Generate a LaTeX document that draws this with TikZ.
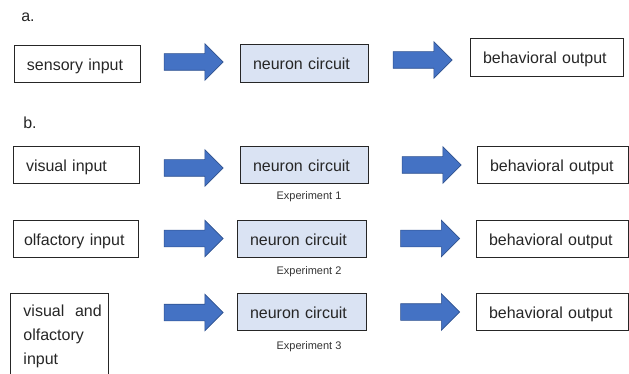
\documentclass[tikz,border=0pt]{standalone}
\usepackage{fontspec}
\setmainfont{Liberation Sans}
\usetikzlibrary{shapes}
\usetikzlibrary{shapes.arrows}
\usetikzlibrary{positioning}
\definecolor{arrblue}{HTML}{4472C4}
\definecolor{arredge}{HTML}{2F528F}
\definecolor{circblue}{HTML}{DAE3F3}
\tikzset{
    box/.style = {rectangle, draw=black!85, line width=0.9pt, minimum height=37pt, inner xsep=13pt, inner ysep=2pt, align=left, text=black!85, font=\fontsize{16}{24}\selectfont},
    onebox/.style = {box, text height=17pt, text depth=3.5pt},
    inbox/.style = {onebox, text width=100pt},
    circbox/.style = {onebox, fill=circblue, text width=103pt},
    outbox/.style = {onebox, text width=126pt},
    bigarrow/.style = {single arrow, draw=arredge, fill=arrblue, line width=0.6pt, minimum height=59pt, inner sep=8pt, single arrow head extend=10pt, single arrow tip angle=90},
    explabel/.style = {text=black!80, font=\fontsize{11}{12}\selectfont},
    partlabel/.style = {text=black!85, font=\fontsize{16}{18}\selectfont}
}

\begin{document}
\begin{tikzpicture}[x=1pt,y=-1pt]
\path[use as bounding box, clip] (0,0) rectangle (629,374);
% a. general scheme
\node[partlabel] at (28,17) (pa) {a.};
\node[inbox] at (77,64) (sens) {sensory input};
\node[circbox, minimum height=38pt, text width=102pt] at (304,63) (circ) {neuron circuit};
\node[outbox, minimum height=38pt, text width=127pt] at (546.5,57) (beh) {behavioral output};
\node[bigarrow] at (189.5,62) (sa) {};
\node[bigarrow] at (418.5,60) (sb) {};
%
% b. three experiments
\node[partlabel] at (30,123) (pb) {b.};
\node[inbox] at (76,164.5) (vis) {visual input};
\node[circbox, text width=102pt] at (304,164.5) (circA) {neuron circuit};
\node[outbox, text width=125pt] at (552.5,164.5) (behA) {behavioral output};
\node[bigarrow] at (189.5,168) (va) {};
\node[bigarrow] at (427.5,165) (vb) {};
\node[explabel] at (309,197) (expA) {Experiment 1};
%
\node[inbox, inner xsep=11pt, text width=103pt] at (75.5,238.5) (olf) {olfactory input};
\node[circbox] at (301.5,238.5) (circB) {neuron circuit};
\node[outbox] at (552,238.5) (behB) {behavioral output};
\node[bigarrow] at (189.5,238.5) (oa) {};
\node[bigarrow] at (426,238.5) (ob) {};
\node[explabel] at (309,272) (expB) {Experiment 2};
%
\node[box, anchor=north west, minimum height=86pt, text width=72pt] at (10,293) (both) {visual~~and\\olfactory\\input};
\node[circbox] at (301.5,311.5) (circC) {neuron circuit};
\node[outbox] at (552,311.5) (behC) {behavioral output};
\node[bigarrow] at (189.5,312.5) (ba) {};
\node[bigarrow] at (426,312) (bb) {};
\node[explabel] at (309,347) (expC) {Experiment 3};

\end{tikzpicture}
\end{document}
